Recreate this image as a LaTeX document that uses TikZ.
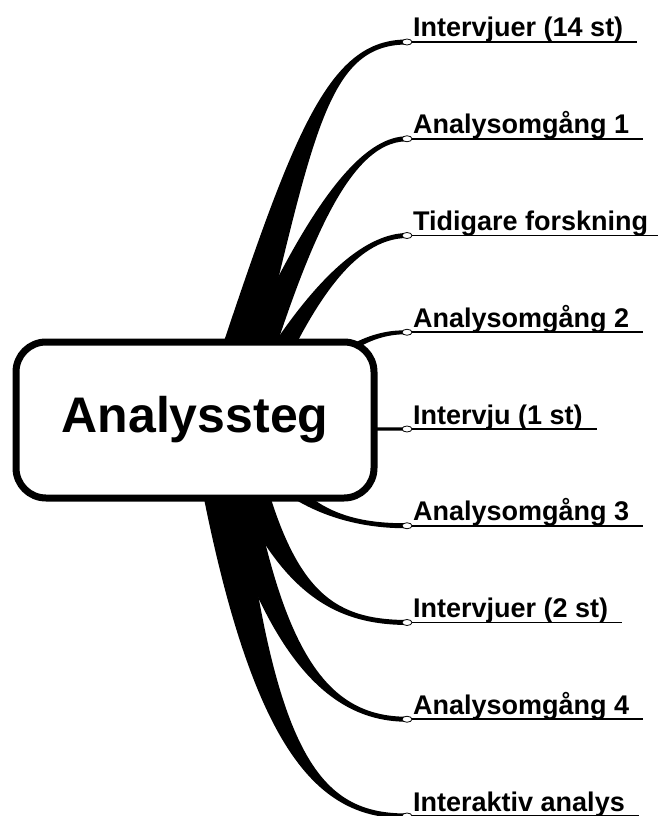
\documentclass[tikz,border=0pt]{standalone}
\usepackage{fontspec}
\setmainfont{Liberation Sans}
\usetikzlibrary{positioning,calc,shapes.geometric,backgrounds}

\tikzset{
  hub/.style={draw, line width=7pt, rounded corners=30pt, fill=white,
    minimum width=358pt, minimum height=156pt, inner sep=0pt,
    font=\fontsize{50}{56}\selectfont\bfseries},
  knot/.style={ellipse, draw, line width=0.8pt, fill=white, outer sep=0pt,
    minimum width=10pt, minimum height=6pt, inner sep=0pt},
  topic/.style={anchor=base west, inner sep=0pt,
    font=\fontsize{27}{30}\selectfont\bfseries},
  uline/.style={line width=1.8pt},
}

% tapered branch: root (from hub), ctrl 1, ctrl 2, end node, root offset, tip offset
\newcommand{\limb}[6]{%
  \fill ($(hub)+#1+#5$) .. controls ($#2+0.5*#5$) and ($#3+#6$) .. ($(#4)+#6$)
    -- ($(#4)-#6$) .. controls ($#3-#6$) and ($#2-0.5*#5$) .. ($(hub)+#1-#5$) -- cycle;}

\begin{document}
\begin{tikzpicture}[x=1pt, y=-1pt, node distance=90.75pt]
    \useasboundingbox (0,0) rectangle (658,816);

    \node[hub] (hub) at (195,420) {Analyssteg};

    \node[knot] (c1) at (407,42) {};
    \node[knot, below=of c1] (c2) {};
    \node[knot, below=of c2] (c3) {};
    \node[knot, below=of c3] (c4) {};
    \node[knot, below=of c4] (c5) {};
    \node[knot, below=of c5] (c6) {};
    \node[knot, below=of c6] (c7) {};
    \node[knot, below=of c7] (c8) {};
    \node[knot, below=of c8] (c9) {};

    \node[topic] (l1) at ($(c1)+(6,-5)$) {Intervjuer (14 st)};
    \node[topic] (l2) at ($(c2)+(6,-5)$) {Analysomgång 1};
    \node[topic] (l3) at ($(c3)+(6,-5)$) {Tidigare forskning};
    \node[topic] (l4) at ($(c4)+(6,-5)$) {Analysomgång 2};
    \node[topic] (l5) at ($(c5)+(6,-5)$) {Intervju (1 st)};
    \node[topic] (l6) at ($(c6)+(6,-5)$) {Analysomgång 3};
    \node[topic] (l7) at ($(c7)+(6,-5)$) {Intervjuer (2 st)};
    \node[topic] (l8) at ($(c8)+(6,-5)$) {Analysomgång 4};
    \node[topic] (l9) at ($(c9)+(6,-5)$) {Interaktiv analys};

    \draw[uline] (c1.east) -- ($(l1.east |- c1)+(14,0)$);
    \draw[uline] (c2.east) -- ($(l2.east |- c2)+(14,0)$);
    \draw[uline] (c3.east) -- ($(l3.east |- c3)+(14,0)$);
    \draw[uline] (c4.east) -- ($(l4.east |- c4)+(14,0)$);
    \draw[uline] (c5.east) -- ($(l5.east |- c5)+(14,0)$);
    \draw[uline] (c6.east) -- ($(l6.east |- c6)+(14,0)$);
    \draw[uline] (c7.east) -- ($(l7.east |- c7)+(14,0)$);
    \draw[uline] (c8.east) -- ($(l8.east |- c8)+(14,0)$);
    \draw[uline] (c9.east) -- ($(l9.east |- c9)+(14,0)$);

    \begin{scope}[on background layer]
        \limb{(20,20)}{(300,150)}{(320,42)}{c1}{(-24,0)}{(0,-2.5)}
        \limb{(30,20)}{(290,260)}{(345,139)}{c2}{(-22,0)}{(0,-2.5)}
        \limb{(40,20)}{(300,300)}{(355,236)}{c3}{(-18,0)}{(0,-2.5)}
        \limb{(105,-30)}{(345,345)}{(375,332)}{c4}{(0,-7)}{(0,-2)}
        \limb{(135,9)}{(360,429)}{(385,429)}{c5}{(0,-2.5)}{(0,-1.6)}
        \limb{(55,20)}{(290,510)}{(350,526)}{c6}{(-18,0)}{(0,2.5)}
        \limb{(40,20)}{(280,590)}{(330,622)}{c7}{(-20,0)}{(0,2.5)}
        \limb{(30,20)}{(270,660)}{(330,719)}{c8}{(-20,0)}{(0,2.5)}
        \limb{(20,20)}{(260,760)}{(320,816)}{c9}{(-22,0)}{(0,2.5)}
    \end{scope}
\end{tikzpicture}
\end{document}
